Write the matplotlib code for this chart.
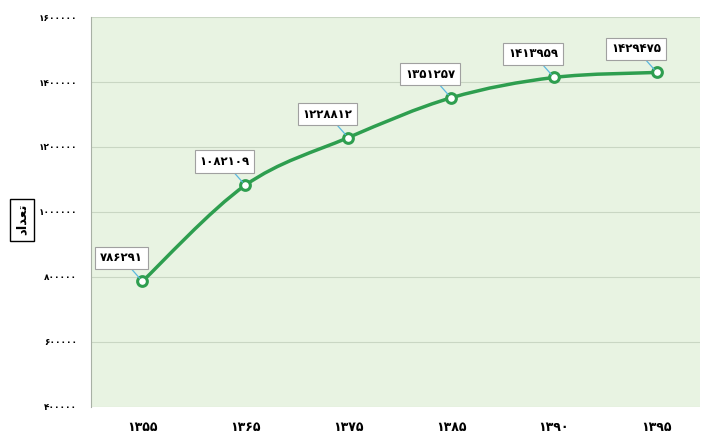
import numpy as np
import matplotlib.pyplot as plt
from matplotlib.path import Path
from matplotlib.patches import PathPatch

plt.rcParams['font.family'] = ['DejaVu Sans']

# data
years = ['۱۳۵۵', '۱۳۶۵', '۱۳۷۵', '۱۳۸۵', '۱۳۹۰', '۱۳۹۵']
values = [786291, 1082109, 1228812, 1351257, 1413959, 1429475]
yticks = [400000, 600000, 800000, 1000000, 1200000, 1400000, 1600000]
ylabel = '\uFEA9\uFE8D\uFEAA\uFECC\uFE97'  # تعداد (shaped, visual order)

fa = str.maketrans('0123456789', '۰۱۲۳۴۵۶۷۸۹')

def persian(n):
    return str(n).translate(fa)

green = '#2E9E4F'
fig = plt.figure(figsize=(7.05, 4.37), dpi=100)
ax = fig.add_axes([0.129, 0.069, 0.864, 0.892])
ax.set_facecolor('#E8F3E2')

x = np.arange(len(values))
y = np.array(values, dtype=float)

# smooth curve through the points (Catmull-Rom as cubic bezier)
verts = [(x[0], y[0])]
codes = [Path.MOVETO]
px = np.concatenate([[x[0]], x, [x[-1]]])
py = np.concatenate([[y[0]], y, [y[-1]]])
for i in range(1, len(px) - 2):
    c1 = (px[i] + (px[i + 1] - px[i - 1]) / 6, py[i] + (py[i + 1] - py[i - 1]) / 6)
    c2 = (px[i + 1] - (px[i + 2] - px[i]) / 6, py[i + 1] - (py[i + 2] - py[i]) / 6)
    verts += [c1, c2, (px[i + 1], py[i + 1])]
    codes += [Path.CURVE4] * 3
ax.add_patch(PathPatch(Path(verts, codes), fill=False, edgecolor=green, lw=2.5, zorder=3))
ax.plot(x, y, 'o', ms=7, mfc='white', mec=green, mew=2.2, zorder=4)

for xi, yi in zip(x, y):
    ax.annotate(persian(int(yi)), xy=(xi, yi), xytext=(-15, 17), textcoords='offset points',
                ha='center', va='center', fontsize=8.5, fontweight='bold',
                bbox=dict(boxstyle='square,pad=0.4', fc='white', ec='#A0A0A0', lw=0.8),
                arrowprops=dict(arrowstyle='-', color='#5BB8E0', lw=0.9, shrinkA=0, shrinkB=3),
                zorder=5)

ax.set_xlim(-0.5, 5.42)
ax.set_ylim(400000, 1600000)
ax.set_xticks(x)
ax.set_xticklabels(years, fontsize=9, fontweight='bold')
ax.set_yticks(yticks)
ax.set_yticklabels([persian(t) for t in yticks], fontsize=6.5, fontweight='bold')
ax.tick_params(length=0)
ax.tick_params(axis='x', pad=10)
ax.tick_params(axis='y', pad=10)
ax.grid(axis='y', color='#C9D6C3', lw=0.8)
ax.set_axisbelow(True)
for s in ['top', 'right', 'bottom']:
    ax.spines[s].set_visible(False)
ax.spines['left'].set_color('#A8B0A5')

fig.text(0.031, 0.497, ylabel, rotation=90, ha='center', va='center', fontsize=9.5,
         fontweight='bold', bbox=dict(boxstyle='square,pad=0.4', fc='white', ec='black', lw=1))

plt.savefig('out.png')
